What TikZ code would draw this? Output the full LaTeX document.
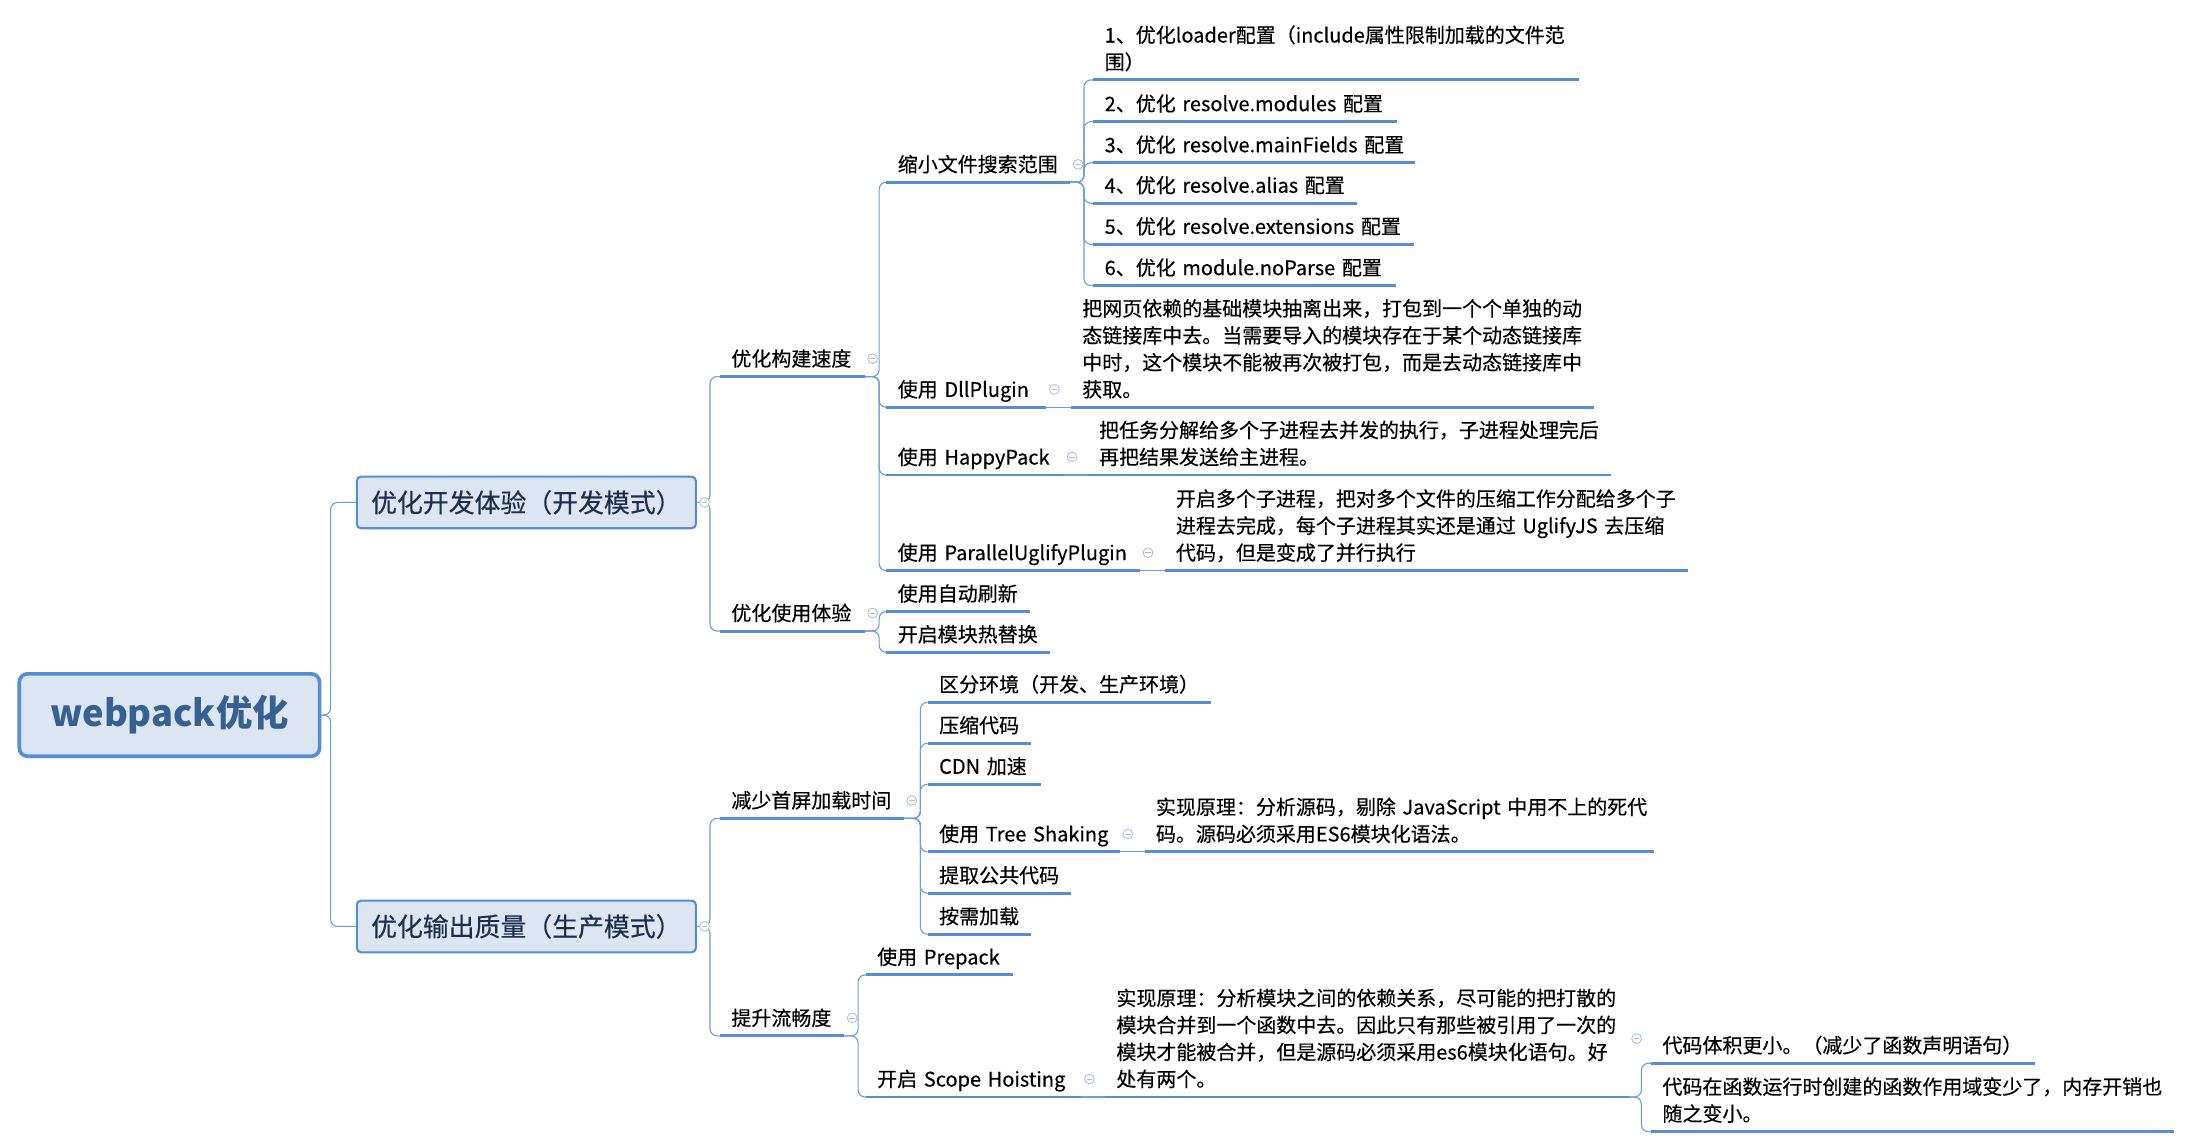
\documentclass[tikz,border=0pt]{standalone}
\usepackage{fontspec}
\setmainfont{Noto Sans CJK SC}
\newfontfamily\bodyfont{Noto Sans CJK SC}[FakeBold=0.35]
\hyphenpenalty=10000
\exhyphenpenalty=10000
\definecolor{barblue}{HTML}{558ED5}
\definecolor{linkblue}{HTML}{6F9DD8}
\definecolor{boxfill}{HTML}{DCE6F2}
\definecolor{boxedge}{HTML}{558ED5}
\definecolor{roottext}{HTML}{376092}
\definecolor{headtext}{HTML}{1D2F4C}
\definecolor{knobcol}{HTML}{A9BDDB}

\tikzset{
  txt/.style={font=\bodyfont\fontsize{14.3}{19.3}\selectfont},
  bar/.style={draw=barblue, line width=2.1pt},
  topic/.style={txt, anchor=south west, inner xsep=8pt, inner ysep=1.5pt,
    align=left, text width=#1,
    execute at begin node={\hyphenpenalty=10000\relax\strut},
    execute at end node=\strut},
  link/.style={draw=linkblue, line width=0.8pt, rounded corners=5pt},
  knob/.style={circle, draw=knobcol, fill=white, line width=0.6pt,
    minimum size=7pt, inner sep=0pt,
    path picture={\draw[knobcol, line width=0.6pt]
      ([xshift=-2pt]path picture bounding box.center) --
      ([xshift=2pt]path picture bounding box.center);}},
  head/.style={draw=boxedge, fill=boxfill, line width=1.5pt, rounded corners=3pt,
    minimum width=242.5pt, minimum height=37pt, inner sep=0pt, text=headtext,
    font=\bodyfont\fontsize{18.5}{22}\selectfont},
  rootbox/.style={draw=boxedge, fill=boxfill, line width=2.6pt, rounded corners=6pt,
    minimum width=214.8pt, minimum height=59pt, inner sep=0pt, text=roottext,
    font=\fontsize{26}{30}\selectfont\bfseries},
}

\begin{document}
\begin{tikzpicture}[x=1pt,y=-1pt]
\fill[white] (0,0) rectangle (1568,821);
\useasboundingbox (0,0) rectangle (1568,821);

% central topic and the two main branches
\node[rootbox] (root) at (121.2,511.5) {webpack优化};
\node[head] (dev) at (376.5,359.4) {优化开发体验（开发模式）};
\node[head] (prod) at (376.5,662.7) {优化输出质量（生产模式）};

% development branch
\node[topic=87pt] (speed) at (515,269.4) {优化构建速度};
\node[topic=87pt] (usage) at (515,451.4) {优化使用体验};

\node[topic=115pt] (scope) at (634,130.4) {缩小文件搜索范围};
\node[topic=98pt] (dll) at (634,291.4) {使用~DllPlugin};
\node[topic=110.7pt] (happy) at (634,339.8) {使用~HappyPack};
\node[topic=165pt] (puglify) at (634,408.2) {使用~ParallelUglifyPlugin};
\node[topic=86.5pt] (reload) at (634,437.5) {使用自动刷新};
\node[topic=100.7pt] (hmr) at (634,466.6) {开启模块热替换};

\node[topic=331pt] (s1) at (782,57.2) {1、优化loader配置（include属性限制加载的文件范\\围）};
\node[topic=200.6pt] (s2) at (782,87) {2、优化~resolve.modules~配置};
\node[topic=214pt] (s3) at (782,116.4) {3、优化~resolve.mainFields~配置};
\node[topic=172pt] (s4) at (782,145.4) {4、优化~resolve.alias~配置};
\node[topic=213pt] (s5) at (782,174.8) {5、优化~resolve.extensions~配置};
\node[topic=200pt] (s6) at (782,204.3) {6、优化~module.noParse~配置};

\node[topic=357.5pt] (dlltxt) at (766,291.4) {把网页依赖的基础模块抽离出来，打包到一个个单独的动\\态链接库中去。当需要导入的模块存在于某个动态链接库\\中时，这个模块不能被再次被打包，而是去动态链接库中\\获取。};
\node[topic=357.7pt] (happytxt) at (778,339.8) {把任务分解给多个子进程去并发的执行，子进程处理完后\\再把结果发送给主进程。};
\node[topic=358pt] (puglifytxt) at (833,408.2) {开启多个子进程，把对多个文件的压缩工作分配给多个子\\进程去完成，每个子进程其实还是通过~UglifyJS~去压缩\\代码，但是变成了并行执行};

% production branch
\node[topic=115pt] (firstload) at (515,585.4) {减少首屏加载时间};
\node[topic=72.4pt] (smooth) at (515,741) {提升流畅度};

\node[topic=186pt] (env) at (663.6,502.4) {区分环境（开发、生产环境）};
\node[topic=57.2pt] (minify) at (663.6,531.7) {压缩代码};
\node[topic=64.8pt] (cdn) at (663.6,561) {CDN~加速};
\node[topic=120.9pt] (shake) at (663.6,609.4) {使用~Tree~Shaking};
\node[topic=86.1pt] (common) at (663.6,639) {提取公共代码};
\node[topic=57.2pt] (lazy) at (663.6,668.3) {按需加载};
\node[topic=348.3pt] (shaketxt) at (818.7,609.4) {实现原理：分析源码，剔除~JavaScript~中用不上的死代\\码。源码必须采用ES6模块化语法。};

\node[topic=89pt] (prepack) at (619.3,697.4) {使用~Prepack};
\node[topic=137.7pt] (hoist) at (619.3,784.7) {开启~Scope~Hoisting};
\node[topic=358.1pt] (hoisttxt) at (790.4,784.7) {实现原理：分析模块之间的依赖关系，尽可能的把打散的\\模块合并到一个函数中去。因此只有那些被引用了一次的\\模块才能被合并，但是源码必须采用es6模块化语句。好\\处有两个。};
\node[topic=258pt] (gain1) at (1181,760.6) {代码体积更小。（减少了函数声明语句）};
\node[topic=358pt] (gain2) at (1181,809.5) {代码在函数运行时创建的函数作用域变少了，内存开销也\\随之变小。};

% connectors
\draw[link] (root.east) -- ++(6.6,0) |- (dev.west);
\draw[link] (root.east) -- ++(6.6,0) |- (prod.west);

\draw[link] (dev.east) -- ++(9.4,0) |- (speed.south west);
\draw[link] (dev.east) -- ++(9.4,0) |- (usage.south west);
\draw[link] (prod.east) -- ++(9.4,0) |- (firstload.south west);
\draw[link] (prod.east) -- ++(9.4,0) |- (smooth.south west);

\foreach \c in {scope,dll,happy,puglify}
  \draw[link] (speed.south east) -- ++(10.5,0) |- (\c.south west);
\foreach \c in {reload,hmr}
  \draw[link] (usage.south east) -- ++(10.5,0) |- (\c.south west);
\foreach \c in {s1,s2,s3,s4,s5,s6}
  \draw[link] (scope.south east) -- ++(10,0) |- (\c.south west);

\draw[link] (dll.south east) -- (dlltxt.south west);
\draw[link] (happy.south east) -- (happytxt.south west);
\draw[link] (puglify.south east) -- (puglifytxt.south west);

\foreach \c in {env,minify,cdn,shake,common,lazy}
  \draw[link] (firstload.south east) -- ++(12,0) |- (\c.south west);
\draw[link] (shake.south east) -- (shaketxt.south west);

\foreach \c in {prepack,hoist}
  \draw[link] (smooth.south east) -- ++(10,0) |- (\c.south west);
\draw[link] (hoist.south east) -- (hoisttxt.south west);
\foreach \c in {gain1,gain2}
  \draw[link] (hoisttxt.south east) -- ++(9.2,0) |- (\c.south west);

% topic underlines
\foreach \n in {speed,usage,scope,dll,happy,puglify,reload,hmr,
                s1,s2,s3,s4,s5,s6,dlltxt,happytxt,puglifytxt,
                firstload,smooth,env,minify,cdn,shake,common,lazy,shaketxt,
                prepack,hoist,hoisttxt,gain1,gain2}
  \draw[bar] (\n.south west) -- (\n.south east);

% collapse knobs
\node[knob] (kdev) at ([xshift=5.5pt]dev.east) {};
\node[knob] (kprod) at ([xshift=5.5pt]prod.east) {};
\foreach \n in {speed,usage,scope,dll,happy,puglify,firstload,shake,smooth,hoist,hoisttxt}
  \node[knob] (k\n) at ([xshift=5.8pt,yshift=1.5pt]\n.east) {};
\end{tikzpicture}
\end{document}
